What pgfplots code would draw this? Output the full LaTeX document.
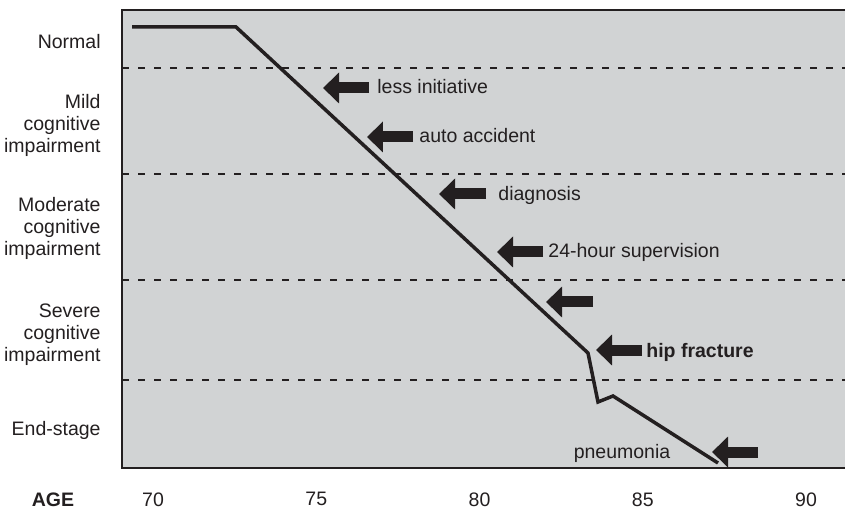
\documentclass[border=0pt]{standalone}
\usepackage{fontspec}
\setmainfont{Liberation Sans}
\usepackage{pgfplots}
\usepackage{pgfplotstable}
\pgfplotsset{compat=1.18}
\usetikzlibrary{arrows.meta}
\definecolor{bggray}{RGB}{209,211,212}
\definecolor{ink}{RGB}{35,31,32}
\pgfplotstableread{
x y
69.357 441
72.542 441
83.323 115
83.629 66
84.089 72
87.305 5
}\trajectory
\pgfplotstableread{
x y u
76.616 380 -1.409
77.963 331 -1.409
80.199 274 -1.439
81.945 216 -1.409
83.476 166 -1.439
84.977 118 -1.409
88.530 16 -1.409
}\events
\begin{document}
\fontsize{9.75}{11}\selectfont
\begin{tikzpicture}
\useasboundingbox (0,0) rectangle (422.5pt,255pt);
\begin{axis}[
  at={(61pt,21pt)}, anchor=south west,
  scale only axis, width=364pt, height=229pt,
  xmin=69.0505, xmax=91.3476, ymin=0, ymax=458,
  axis background/.style={fill=bggray},
  axis line style={ink, line width=1pt},
  clip=false,
  xtick={70,75,80,85,90},
  ytick={38,133.5,240,343,426},
  yticklabels={End-stage, Severe\\cognitive\\impairment, Moderate\\cognitive\\impairment, Mild\\cognitive\\impairment, Normal},
  yticklabel style={align=right, text=ink},
  xticklabel style={text=ink},
  major tick length=0pt,
  /pgf/number format/assume math mode=true,
  xticklabel shift=8.75pt,
  yticklabel shift=7.25pt,
  extra y ticks={88,188,294,400},
  extra y tick labels={},
  extra y tick style={grid=major, major grid style={ink, line width=0.75pt, dash pattern=on 3.5pt off 4.5pt}},
]
\addplot[ink, line width=1.75pt] table {\trajectory};
\addplot[ink, line width=5.5pt, quiver={u=\thisrow{u}, v=0}, -{Triangle[length=8pt,width=15pt]}] table {\events};
\node[anchor=base west, inner sep=0, text=ink] at (axis cs:76.861,374) {less initiative};
\node[anchor=base west, inner sep=0, text=ink] at (axis cs:78.147,325) {auto accident};
\node[anchor=base west, inner sep=0, text=ink] at (axis cs:80.567,267) {diagnosis};
\node[anchor=base west, inner sep=0, text=ink] at (axis cs:82.098,210) {24-hour supervision};
\node[anchor=base west, inner sep=0, text=ink, font=\bfseries] at (axis cs:85.099,111) {hip fracture};
\node[anchor=base, inner sep=0, text=ink] at (axis cs:84.364,10) {pneumonia};
\end{axis}
\node[anchor=base, inner sep=0, text=ink, font=\bfseries] at (26.5pt,2pt) {AGE};
\end{tikzpicture}
\end{document}
